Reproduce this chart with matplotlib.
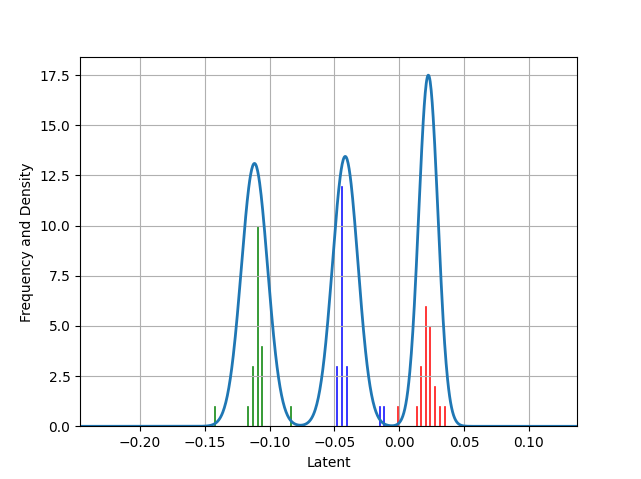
# latent distribution per class: histogram stems + fitted density
import numpy as np
import matplotlib
matplotlib.use('Agg')
import matplotlib.pyplot as plt

# histogram counts (bin centres in latent units)
green_x = [-0.1427, -0.1172, -0.1133, -0.1097, -0.1061, -0.0840]
green_n = [1, 1, 3, 10, 4, 1]
blue_x = [-0.0487, -0.0448, -0.0409, -0.0155, -0.0119]
blue_n = [3, 12, 3, 1, 1]
red_x = [-0.0017, 0.0131, 0.0165, 0.0201, 0.0236, 0.0273, 0.0309, 0.0348]
red_n = [1, 1, 3, 6, 5, 2, 1, 1]

# density components (peak height, centre, spread)
peaks = [13.1, 13.45, 17.5]
means = [-0.1117, -0.0417, 0.0224]
sigmas = [0.0101, 0.0098, 0.0074]

x_lo, x_hi = -0.2462, 0.1370

plt.figure(figsize=(6.41, 4.79), dpi=100)

w = 0.0007
plt.bar(green_x, green_n, width=w, color='g', edgecolor='g', linewidth=0.6, alpha=0.75)
plt.bar(blue_x, blue_n, width=w, color='b', edgecolor='b', linewidth=0.6, alpha=0.75)
plt.bar(red_x, red_n, width=w, color='r', edgecolor='r', linewidth=0.6, alpha=0.75)

xs = np.linspace(x_lo, x_hi, 1000)
dens = np.zeros_like(xs)
for a, m, s in zip(peaks, means, sigmas):
    dens += a * np.exp(-0.5 * ((xs - m) / s) ** 2)
plt.plot(xs, dens, color='C0', linewidth=2)

plt.xlim(x_lo, x_hi)
plt.ylim(0, 18.38)
plt.xlabel('Latent')
plt.ylabel('Frequency and Density')
plt.grid(True)
plt.savefig('out.png', dpi=100)
